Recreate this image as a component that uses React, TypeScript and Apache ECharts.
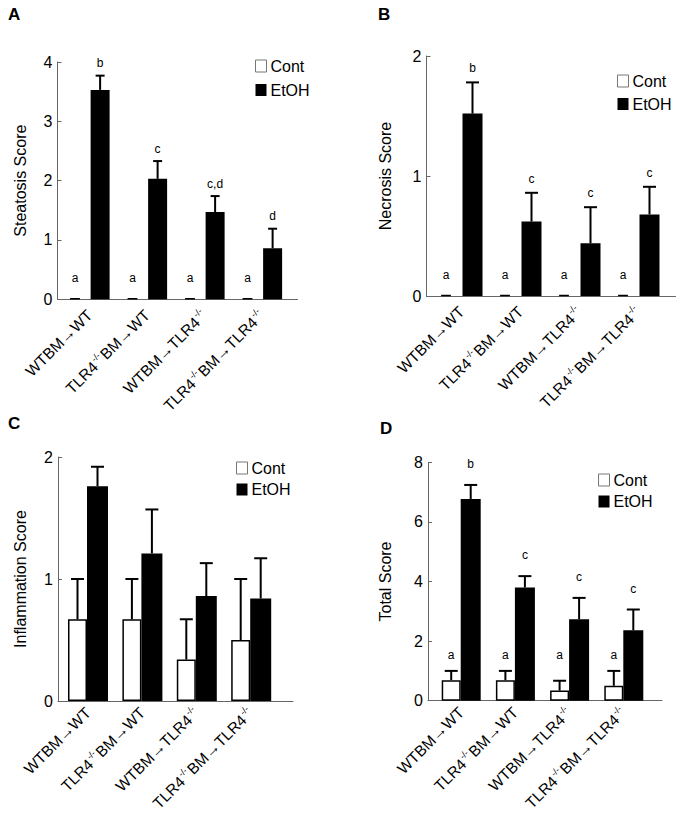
import React, { useEffect, useRef } from 'react';
import * as echarts from 'echarts';

// ---------------- data ----------------
const categories = ['WTBM→WT', 'TLR4-/-BM→WT', 'WTBM→TLR4-/-', 'TLR4-/-BM→TLR4-/-'];
const groupNames = ['Cont', 'EtOH'];

// A: Steatosis
const steatosisTicks = [0, 1, 2, 3, 4];
const steatosisCont = [0.02, 0.02, 0.02, 0.02];
const steatosisContErr = [0, 0, 0, 0];
const steatosisEtoh = [3.53, 2.03, 1.47, 0.86];
const steatosisEtohErr = [0.24, 0.30, 0.27, 0.33];
const steatosisContLetters = ['a', 'a', 'a', 'a'];
const steatosisEtohLetters = ['b', 'c', 'c,d', 'd'];

// B: Necrosis
const necrosisTicks = [0, 1, 2];
const necrosisCont = [0.01, 0.01, 0.01, 0.01];
const necrosisContErr = [0, 0, 0, 0];
const necrosisEtoh = [1.52, 0.62, 0.44, 0.68];
const necrosisEtohErr = [0.26, 0.24, 0.30, 0.23];
const necrosisContLetters = ['a', 'a', 'a', 'a'];
const necrosisEtohLetters = ['b', 'c', 'c', 'c'];

// C: Inflammation
const inflammationTicks = [0, 1, 2];
const inflammationCont = [0.67, 0.67, 0.34, 0.5];
const inflammationContErr = [0.33, 0.33, 0.33, 0.5];
const inflammationEtoh = [1.76, 1.21, 0.86, 0.84];
const inflammationEtohErr = [0.16, 0.36, 0.27, 0.33];

// D: Total
const totalTicks = [0, 2, 4, 6, 8];
const totalCont = [0.69, 0.69, 0.34, 0.5];
const totalContErr = [0.31, 0.31, 0.33, 0.5];
const totalEtoh = [6.77, 3.80, 2.73, 2.36];
const totalEtohErr = [0.47, 0.38, 0.72, 0.70];
const totalContLetters = ['a', 'a', 'a', 'a'];
const totalEtohLetters = ['b', 'c', 'c', 'c'];

// ---------------- layout ----------------
const FONT = '"Liberation Sans", Arial, Helvetica, sans-serif';

type Panel = {
  letter: string;
  yName: string;
  ticks: number[];
  cont: number[]; contErr: number[];
  etoh: number[]; etohErr: number[];
  contLetters?: string[]; etohLetters?: string[];
  frame: { left: number; top: number; width: number; height: number };
  data: { left: number; width: number };
  contW: number; etohW: number; gap: number;
  capW: number; padCont: number; padEtoh: number;
  legend: { left: number; top: number; gap: number };
  title: { left: number; top: number };
  nameGap: number;
  labelMargin: number;
};

const panels: Panel[] = [
  {
    letter: 'A', yName: 'Steatosis Score', ticks: steatosisTicks,
    cont: steatosisCont, contErr: steatosisContErr, etoh: steatosisEtoh, etohErr: steatosisEtohErr,
    contLetters: steatosisContLetters, etohLetters: steatosisEtohLetters,
    frame: { left: 57.5, top: 62, width: 240, height: 237.3 },
    data: { left: 60.8, width: 230 },
    contW: 11, etohW: 19, gap: 0.92, capW: 9, padCont: 20, padEtoh: 12.5,
    legend: { left: 255, top: 58, gap: 8 }, title: { left: 8, top: 6 }, nameGap: 29, labelMargin: 13,
  },
  {
    letter: 'B', yName: 'Necrosis Score', ticks: necrosisTicks,
    cont: necrosisCont, contErr: necrosisContErr, etoh: necrosisEtoh, etohErr: necrosisEtohErr,
    contLetters: necrosisContLetters, etohLetters: necrosisEtohLetters,
    frame: { left: 426.5, top: 56, width: 249, height: 240 },
    data: { left: 432, width: 236 },
    contW: 11, etohW: 20, gap: 1.0, capW: 13, padCont: 20, padEtoh: 14,
    legend: { left: 617, top: 73, gap: 7 }, title: { left: 378, top: 6 }, nameGap: 33, labelMargin: 13,
  },
  {
    letter: 'C', yName: 'Inflammation Score', ticks: inflammationTicks,
    cont: inflammationCont, contErr: inflammationContErr, etoh: inflammationEtoh, etohErr: inflammationEtohErr,
    frame: { left: 58, top: 457, width: 235, height: 244 },
    data: { left: 60.8, width: 217.6 },
    contW: 19, etohW: 21, gap: 0, capW: 13, padCont: 16, padEtoh: 14,
    legend: { left: 236, top: 460, gap: 5.5 }, title: { left: 8, top: 415 }, nameGap: 30, labelMargin: 9,
  },
  {
    letter: 'D', yName: 'Total Score', ticks: totalTicks,
    cont: totalCont, contErr: totalContErr, etoh: totalEtoh, etohErr: totalEtohErr,
    contLetters: totalContLetters, etohLetters: totalEtohLetters,
    frame: { left: 428, top: 462.3, width: 234, height: 238.4 },
    data: { left: 434.1, width: 216.8 },
    contW: 19, etohW: 20, gap: 0, capW: 13, padCont: 16, padEtoh: 21,
    legend: { left: 598, top: 472, gap: 5.5 }, title: { left: 380, top: 420 }, nameGap: 35, labelMargin: 9,
  },
];

const labelFormatter = (v: string) =>
  v.split('-/-').map((p) => (p ? `{n|${p}}` : '')).join('{s|-/-}');

function buildOption() {
  const grid: any[] = [];
  const xAxis: any[] = [];
  const yAxis: any[] = [];
  const series: any[] = [];
  const legend: any[] = [];
  const title: any[] = [];

  panels.forEach((p, pi) => {
    const fi = pi * 2;
    const di = pi * 2 + 1;
    const min = p.ticks[0];
    const max = p.ticks[p.ticks.length - 1];
    const interval = p.ticks[1] - p.ticks[0];

    grid.push({ left: p.frame.left, top: p.frame.top, width: p.frame.width, height: p.frame.height, containLabel: false, outerBoundsMode: 'none' });
    grid.push({ left: p.data.left, top: p.frame.top, width: p.data.width, height: p.frame.height, containLabel: false, outerBoundsMode: 'none' });

    xAxis.push({
      type: 'category', gridIndex: fi, data: [''],
      axisLine: { show: true, lineStyle: { color: '#666', width: 1 } },
      axisTick: { show: false }, axisLabel: { show: false }, splitLine: { show: false },
    });
    xAxis.push({
      type: 'category', gridIndex: di, data: categories,
      axisLine: { show: false }, axisTick: { show: false }, splitLine: { show: false },
      axisLabel: {
        interval: 0, rotate: 45, margin: p.labelMargin, color: '#000', fontSize: 15.5, fontFamily: FONT, lineHeight: 18,
        formatter: labelFormatter,
        rich: {
          n: { fontSize: 15.5, lineHeight: 18, color: '#000', fontFamily: FONT },
          s: { fontSize: 9, lineHeight: 9, verticalAlign: 'top', color: '#000', fontFamily: FONT, padding: [0, 1, 6, 1] },
        },
      },
    });

    yAxis.push({
      type: 'value', gridIndex: fi, min, max, interval,
      name: p.yName, nameLocation: 'middle', nameGap: p.nameGap,
      nameTextStyle: { fontSize: 16, color: '#000', fontFamily: FONT },
      axisLine: { show: true, lineStyle: { color: '#666', width: 1 } },
      axisTick: { show: true, inside: true, length: 4, lineStyle: { color: '#666' } },
      axisLabel: { fontSize: 16, color: '#000', margin: 5, fontFamily: FONT },
      splitLine: { show: false },
    });
    yAxis.push({
      type: 'value', gridIndex: di, min, max, interval, show: false,
      splitLine: { show: false },
    });

    series.push({
      name: groupNames[0], type: 'bar', xAxisIndex: di, yAxisIndex: di,
      data: p.cont, barWidth: p.contW, barGap: `${p.gap * 100}%`,
      itemStyle: { color: '#fff', borderColor: '#000', borderWidth: 1.5 }, z: 2,
    });
    series.push({
      name: groupNames[1], type: 'bar', xAxisIndex: di, yAxisIndex: di,
      data: p.etoh, barWidth: p.etohW, barGap: `${p.gap * 100}%`,
      itemStyle: { color: '#000' }, z: 2,
    });

    const total = p.contW + p.contW * p.gap + p.etohW;
    const contOff = -total / 2 + p.contW / 2;
    const etohOff = total / 2 - p.etohW / 2;
    const contLevel = Math.max(...p.cont.map((v, i) => v + p.contErr[i]));

    const mkErr = (vals: number[], errs: number[], off: number, letters: string[] | undefined, isCont: boolean) => ({
      type: 'custom', xAxisIndex: di, yAxisIndex: di, silent: true, z: 5,
      data: vals.map((v, i) => [i, v, errs[i]]),
      renderItem: (params: any, api: any) => {
        const i = api.value(0);
        const v = api.value(1);
        const e = api.value(2);
        const base = api.coord([i, v]);
        const top = api.coord([i, v + e]);
        const x = base[0] + off;
        const children: any[] = [];
        if (e > 0) {
          children.push({ type: 'line', shape: { x1: x, y1: base[1], x2: x, y2: top[1] }, style: { stroke: '#000', lineWidth: 2 } });
          children.push({ type: 'line', shape: { x1: x - p.capW / 2, y1: top[1], x2: x + p.capW / 2, y2: top[1] }, style: { stroke: '#000', lineWidth: 2 } });
        }
        if (letters) {
          const ly = isCont ? api.coord([i, contLevel])[1] - p.padCont : top[1] - p.padEtoh;
          children.push({
            type: 'text', x, y: ly,
            style: { text: letters[params.dataIndex], fill: '#000', font: `12px ${FONT}`, align: 'center', verticalAlign: 'middle', textAlign: 'center', textVerticalAlign: 'middle' },
          });
        }
        return { type: 'group', children };
      },
    });
    series.push(mkErr(p.cont, p.contErr, contOff, p.contLetters, true));
    series.push(mkErr(p.etoh, p.etohErr, etohOff, p.etohLetters, false));

    legend.push({
      orient: 'vertical', left: p.legend.left, top: p.legend.top, padding: 0,
      itemWidth: 11, itemHeight: 12, itemGap: p.legend.gap, icon: 'rect', selectedMode: false,
      textStyle: { fontSize: 16, color: '#000', lineHeight: 16, fontFamily: FONT, padding: [0, 0, 0, -1] },
      data: [
        { name: groupNames[0], itemStyle: { color: '#fff', borderColor: '#777', borderWidth: 1 } },
        { name: groupNames[1], itemStyle: { color: '#000', borderWidth: 0 } },
      ],
    });

    title.push({
      text: p.letter, left: p.title.left, top: p.title.top, padding: 0,
      textStyle: { fontSize: 17, fontWeight: 'bold', color: '#000', fontFamily: FONT, lineHeight: 17 },
    });
  });

  return {
    animation: false,
    backgroundColor: '#fff',
    textStyle: { fontFamily: FONT },
    title, legend, grid, xAxis, yAxis, series,
  };
}

export default function App() {
  const ref = useRef<HTMLDivElement>(null);
  useEffect(() => {
    if (!ref.current) return;
    const chart = echarts.init(ref.current, undefined, { renderer: 'svg' });
    chart.setOption(buildOption() as any);
    return () => chart.dispose();
  }, []);
  return <div ref={ref} style={{ position: 'absolute', left: 0, top: 0, width: 680, height: 816 }} />;
}
